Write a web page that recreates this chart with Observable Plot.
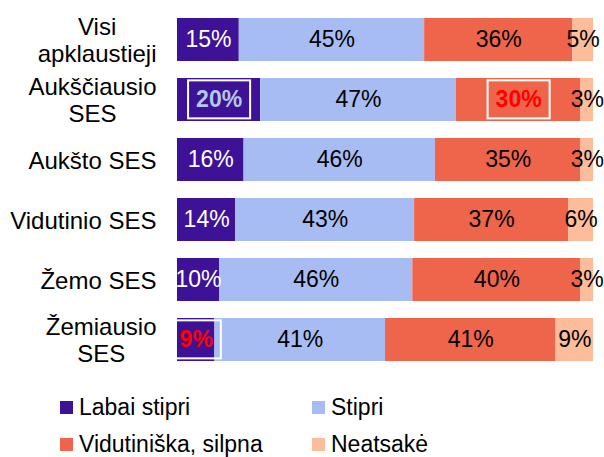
<!DOCTYPE html>
<html>
<head>
<meta charset="utf-8">
<script src="https://cdn.jsdelivr.net/npm/d3@7"></script>
<script src="https://cdn.jsdelivr.net/npm/@observablehq/plot@0.6"></script>
<style>
  html, body { margin: 0; padding: 0; background: #fff; }
  body { width: 604px; height: 457px; overflow: hidden; font-family: "Liberation Sans", Arial, sans-serif; }
  #chart { height: 380px; }
  #legend { display: grid; grid-template-columns: 252px 252px; grid-template-rows: 37px 37px; padding-left: 60px; padding-top: 9px; font-size: 23px; color: #000; }
  #legend .item { display: flex; align-items: center; white-space: nowrap; line-height: 1; }
  #legend .sw { width: 13px; height: 13px; margin-right: 6px; flex: none; }
</style>
</head>
<body>
<div id="chart"></div>
<div id="legend"></div>
<script>
const categories = ["Visi\napklaustieji", "Aukščiausio\nSES", "Aukšto SES", "Vidutinio SES", "Žemo SES", "Žemiausio\nSES"];
const series = ["Labai stipri", "Stipri", "Vidutiniška, silpna", "Neatsakė"];
const labaiStipri = [15, 20, 16, 14, 10, 9];
const stipri = [45, 47, 46, 43, 46, 41];
const vidutiniska = [36, 30, 35, 37, 40, 41];
const neatsake = [5, 3, 3, 6, 3, 9];
// highlighted (boxed) labels: [category, series]
const highlights = [
  ["Aukščiausio\nSES", "Labai stipri"],
  ["Aukščiausio\nSES", "Vidutiniška, silpna"],
  ["Žemiausio\nSES", "Labai stipri"]
];

const colors = ["#3E1296", "#A8BCF4", "#EF654B", "#FDBC9A"];
const valuesBySeries = [labaiStipri, stipri, vidutiniska, neatsake];

const data = [];
categories.forEach((cat, i) => {
  series.forEach((s, j) => data.push({cat, series: s, value: valuesBySeries[j][i]}));
});
const isHl = d => highlights.some(([c, s]) => c === d.cat && s === d.series);
const lbl = d => d.value + "%";
const stackOpts = extra => Plot.stackX({offset: "normalize", x: "value", y: "cat", z: "series", ...extra});

const plot = Plot.plot({
  width: 604,
  height: 380,
  marginLeft: 177,
  marginRight: 11,
  marginTop: 8.5,
  marginBottom: 8.5,
  style: {fontFamily: "'Liberation Sans', Arial, sans-serif", fontSize: "23px", color: "#000", background: "#fff"},
  x: {domain: [0, 1], axis: null},
  y: {domain: categories, paddingInner: 0.28, paddingOuter: 0.14, label: null, axis: null},
  color: {domain: series, range: colors},
  marks: [
    Plot.barX(data, Plot.stackX({offset: "normalize", x: "value", y: "cat", fill: "series"})),
    Plot.text(data, stackOpts({text: d => (!isHl(d) && d.series === series[0]) ? lbl(d) : "", fill: "white", fontSize: 23})),
    Plot.text(data, stackOpts({text: d => (!isHl(d) && d.series !== series[0]) ? lbl(d) : "", fill: "black", fontSize: 23})),
    Plot.text(data, stackOpts({text: d => (isHl(d) && d.series === series[0] && d.cat === categories[1]) ? lbl(d) : "", fill: "#B4C8E8", fontWeight: "bold", fontSize: 23, className: "hl"})),
    Plot.text(data, stackOpts({text: d => (isHl(d) && !(d.series === series[0] && d.cat === categories[1])) ? lbl(d) : "", fill: "#FF0000", fontWeight: "bold", fontSize: 23, className: "hl"})),
    Plot.axisY({tickSize: 0, tickPadding: 21, fontSize: 24, lineHeight: 1.12, label: null, fill: "black"})
  ]
});
document.getElementById("chart").appendChild(plot);

// center multi-line category labels on their block (right edge kept)
const svgNS = "http://www.w3.org/2000/svg";
plot.querySelectorAll('g[aria-label="y-axis tick label"] text').forEach(t => {
  const spans = t.querySelectorAll("tspan");
  if (spans.length > 1) {
    let w = 0;
    spans.forEach(s => { w = Math.max(w, s.getComputedTextLength()); });
    t.setAttribute("text-anchor", "middle");
    spans.forEach(s => s.setAttribute("x", -w / 2));
  }
});

// white boxes around highlighted labels
plot.querySelectorAll("g.hl text").forEach(t => {
  if (!t.textContent) return;
  const b = t.getBBox();
  const r = document.createElementNS(svgNS, "rect");
  const px = 8, py = 6;
  r.setAttribute("x", b.x - px);
  r.setAttribute("y", b.y - py);
  r.setAttribute("width", b.width + 2 * px);
  r.setAttribute("height", b.height + 2 * py);
  r.setAttribute("fill", "none");
  r.setAttribute("stroke", "white");
  r.setAttribute("stroke-width", 2);
  const tr = t.getAttribute("transform");
  if (tr) r.setAttribute("transform", tr);
  t.parentNode.insertBefore(r, t);
});

const legend = document.getElementById("legend");
series.forEach((s, i) => {
  const item = document.createElement("div");
  item.className = "item";
  const sw = document.createElement("span");
  sw.className = "sw";
  sw.style.background = colors[i];
  const tx = document.createElement("span");
  tx.textContent = s;
  item.appendChild(sw);
  item.appendChild(tx);
  legend.appendChild(item);
});
</script>
</body>
</html>
